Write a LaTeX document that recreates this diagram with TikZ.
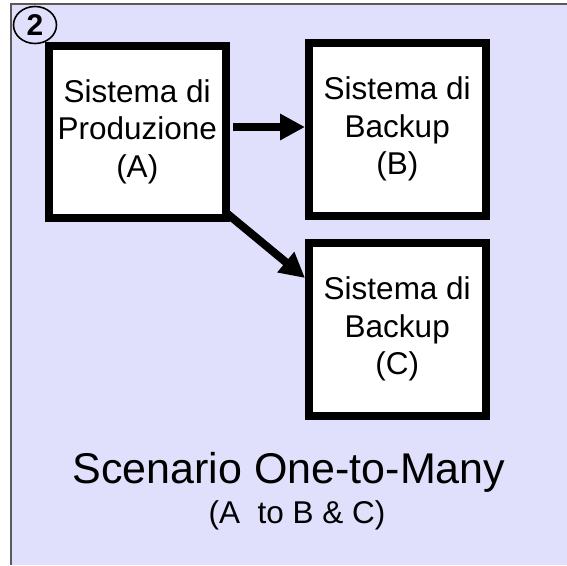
\documentclass[tikz,border=0pt]{standalone}
\usepackage{fontspec}
\setmainfont{Liberation Sans}
\usetikzlibrary{arrows.meta,shapes.geometric,calc}
\definecolor{lav}{RGB}{224,224,252}
\definecolor{framegray}{RGB}{90,90,90}
\begin{document}
\begin{tikzpicture}[x=1pt,y=-1pt,
  sysbox/.style={draw=black,line width=8pt,fill=white,inner sep=0pt,align=center,
    font=\fontsize{31.5}{37.5}\selectfont},
  flow/.style={line width=8pt,-{Triangle[length=25pt,width=25pt]}}]
\useasboundingbox (0,0) rectangle (567,565);
\fill[white] (0,0) rectangle (567,565);
% panel background and frame
\fill[lav] (11,4) rectangle (567,565);
\draw[framegray,line width=2pt] (11,565) -- (11,4) -- (567,4);
% step number
\node[ellipse,draw,line width=1.6pt,minimum width=43pt,minimum height=37pt,inner sep=0pt,
  font=\bfseries\fontsize{30}{30}\selectfont] (num) at (35,25) {2};
% systems
\node[sysbox,minimum width=177.5pt,minimum height=172pt] (A) at (137.25,131.5)
  {Sistema di\\Produzione\\(A)};
\node[sysbox,minimum width=176.5pt,minimum height=173pt] (B) at (397.25,129)
  {Sistema di\\Backup\\(B)};
\node[sysbox,minimum width=176.5pt,minimum height=173pt] (C) at (397.25,329)
  {Sistema di\\Backup\\(C)};
% replication links
\draw[flow] ($(A.east |- B.west)+(3,-2)$) -- ($(B.west)+(0,-2)$);
\draw[flow] ($(A.south east)+(-3,-8)$) -- ($(C.west)+(0,-51)$);
% caption
\node[anchor=base,font=\fontsize{43}{43}\selectfont] (title) at (289,483) {Scenario One-to-Many};
\node[anchor=base,font=\fontsize{31.5}{31.5}\selectfont] (sub) at (297,523) {(A\ \ to B \& C)};
\end{tikzpicture}
\end{document}
